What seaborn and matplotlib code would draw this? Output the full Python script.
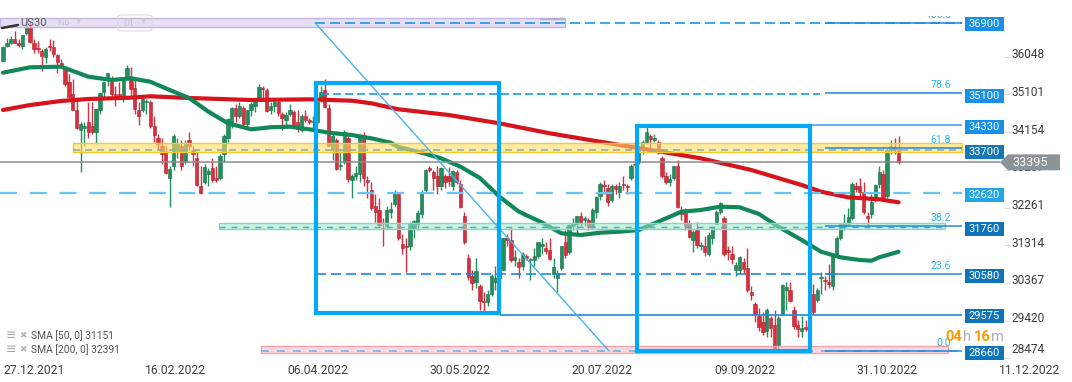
import numpy as np
import pandas as pd
import matplotlib
matplotlib.use("Agg")
import matplotlib.pyplot as plt
from matplotlib.patches import Rectangle, Polygon
import seaborn as sns

# US30 daily candles, 27.12.2021 .. 15.11.2022 (one value per weekday)
opens = (
    [35950, 36310, 36400, 36490, 36400]
    + [36321, 36636, 36800, 36400, 36250, 36200, 36050, 36300, 36300, 36080, 35900,
       35780, 35400, 35100, 34700, 34200, 34250, 34400, 34300, 34150, 34700]
    + [35150, 35450, 35500, 35100, 35100, 35050, 35500, 35500, 35250, 34700, 34700,
       34900, 34900, 34300, 34000, 33800, 33650, 33000, 33300, 33650]
    + [33800, 33400, 33950, 33700, 33500, 32800, 32900, 33100, 33250, 33000, 33000,
       33600, 34000, 34400, 34750, 34550, 34750, 34350, 34700, 34800, 35000, 35250, 35200]
    + [34700, 34800, 34900, 34600, 34450, 34600, 34650, 34400, 34200, 34550, 34450,
       34400, 34400, 34950, 35200, 34750, 33700, 33950, 33300, 33400, 34000]
    + [32950, 33050, 33100, 34000, 32950, 32700, 32300, 32200, 31750, 31800, 32150,
       32350, 32600, 31350, 31300, 31300, 31750, 31850, 32100, 32700, 33250, 33150]
    + [33050, 32800, 33050, 33050, 32800, 33150, 32850, 32050, 31000, 30550, 30400,
       30300, 29900, 29900, 30100, 30400, 30500, 30700, 31500, 31450, 30950, 30900]
    + [30800, 31050, 30950, 30950, 31050, 31300, 31250, 31200, 30600, 30500, 30750,
       31400, 31150, 31800, 31850, 32050, 31950, 31950, 31800, 32150, 32550]
    + [32800, 32750, 32450, 32800, 32650, 32850, 32800, 33000, 33350, 33400, 33700,
       33900, 34050, 33950, 33900, 33500, 33050, 32900, 33000, 33300, 32100, 32150, 31850]
    + [31450, 31700, 31300, 31300, 31100, 31500, 31850, 32150, 32000, 31200, 31100,
       30700, 30700, 30900, 30750, 30150, 29850, 29550, 29400, 29150, 29500, 29300]
    + [28800, 29600, 30200, 30200, 29700, 29300, 29150, 29250, 29150, 30100, 29950,
       30500, 30450, 30400, 30300, 31100, 31500, 31800, 31850, 32000, 32800]
    + [32800, 32650, 32050, 32100, 32450, 32850, 33100, 32550, 33750, 33780, 33720]
)
highs = (
    [36310, 36527, 36571, 36680, 36480]
    + [36600, 36934, 36952, 36500, 36430, 36250, 36300, 36500, 36460, 36120, 36000,
       35800, 35600, 35480, 34950, 34400, 34400, 34900, 34900, 34740, 35150]
    + [35420, 35650, 35550, 35300, 35400, 35500, 35830, 35800, 35500, 34900, 35000,
       34990, 34950, 34550, 34100, 34000, 33800, 33300, 34100, 34000]
    + [33950, 33950, 34150, 33800, 33650, 33300, 33350, 33250, 33500, 33300, 33600,
       34100, 34500, 34780, 34850, 34900, 34800, 34720, 34900, 34960, 35372, 35300, 35250]
    + [34900, 34950, 35000, 34650, 34650, 34850, 34700, 34700, 34600, 34700, 34500,
       34550, 34950, 35300, 35492, 34850, 34100, 34000, 33700, 34200, 34100]
    + [33100, 33300, 34100, 34150, 33050, 32900, 32600, 32500, 32000, 32300, 32400,
       32700, 32650, 31600, 31500, 31900, 31950, 32200, 32700, 33220, 33300, 33200]
    + [33300, 33270, 33100, 33270, 33200, 33200, 32950, 32150, 31100, 30700, 31000,
       30350, 30150, 30200, 30600, 30800, 30750, 31500, 31600, 31750, 31200, 31000]
    + [31150, 31100, 31000, 31250, 31400, 31500, 31400, 31500, 31000, 30700, 31300,
       31700, 31850, 32000, 32050, 32150, 32050, 32000, 32250, 32550, 32900]
    + [32950, 32850, 32850, 32850, 32900, 33050, 32850, 33350, 33600, 33770, 33950,
       34281, 34100, 34100, 33950, 33550, 33150, 33100, 33300, 33450, 32300, 32250, 31950]
    + [31700, 31900, 31400, 31550, 31650, 31800, 32200, 32400, 32050, 31300, 31300,
       30900, 31050, 31000, 31250, 30300, 29900, 29750, 29650, 29750, 29550, 29700]
    + [29550, 30350, 30400, 30400, 29800, 29450, 29550, 29450, 30100, 30350, 30250,
       30650, 30550, 30850, 31100, 31550, 31850, 32100, 32250, 32900, 32900]
    + [33000, 32900, 32150, 32600, 32850, 33300, 33200, 33750, 33950, 34000, 34050]
)
lows = (
    [35930, 36290, 36360, 36380, 36300]
    + [36250, 36600, 36400, 36150, 36150, 35700, 35900, 36200, 36040, 35650, 35800,
       35300, 35000, 34700, 34240, 33150, 33800, 34000, 34100, 33850, 34600]
    + [35000, 35300, 35050, 34800, 35000, 34900, 35450, 35000, 34600, 34330, 34650,
       34600, 34250, 33900, 33700, 33350, 33100, 32272, 33200, 33500]
    + [33200, 33350, 33700, 33300, 32800, 32600, 32850, 32800, 32900, 32900, 32950,
       33400, 33900, 34250, 34400, 34500, 34300, 34300, 34550, 34650, 34950, 35000, 34650]
    + [34600, 34650, 34550, 34200, 34250, 34550, 34300, 34150, 34150, 34400, 34350,
       34250, 34350, 34900, 34750, 33800, 33450, 33200, 33200, 33350, 32900]
    + [32500, 32950, 32900, 32800, 32500, 32200, 31900, 31800, 31300, 31750, 32000,
       32300, 31450, 31100, 30636, 31200, 31500, 31700, 32000, 32650, 33150, 32700]
    + [32600, 32700, 32750, 32800, 32700, 32850, 32250, 31350, 30450, 30200, 30250,
       29700, 29653, 29800, 30050, 30200, 30300, 30700, 31300, 30900, 30800, 30500]
    + [30700, 30950, 30450, 30800, 31000, 31100, 31100, 30950, 30500, 30150, 30700,
       31000, 31100, 31700, 31600, 31800, 31800, 31700, 31750, 32000, 32450]
    + [32600, 32300, 32400, 32600, 32500, 32700, 32600, 32950, 33250, 33350, 33600,
       33850, 33750, 33900, 33600, 33000, 32850, 32800, 32950, 32250, 31950, 31700, 31500]
    + [31150, 31250, 31200, 31050, 31050, 31350, 31850, 32100, 31050, 30950, 30850,
       30550, 30600, 30600, 30150, 29950, 29400, 29150, 29050, 29000, 29000, 28715]
    + [28700, 29600, 29700, 29900, 29200, 29000, 29000, 29150, 28660, 29600, 29900,
       30100, 30200, 30250, 30200, 31050, 31450, 31700, 31800, 31950, 32650]
    + [32550, 32100, 31750, 32000, 32400, 32750, 32450, 32500, 33600, 33600, 33350]
)
closes = (
    [36302, 36398, 36488, 36398, 36338]
    + [36585, 36799, 36408, 36236, 36231, 36068, 36252, 36290, 36114, 35912, 35850,
       35369, 35029, 34715, 34265, 34365, 34298, 34168, 34160, 34725, 35132]
    + [35405, 35629, 35111, 35090, 35091, 35463, 35768, 35242, 34738, 34566, 34989,
       34934, 34312, 34079, 33850, 33597, 33131, 33224, 34059, 33893]
    + [33294, 33891, 33795, 33615, 32818, 32633, 33286, 33174, 32945, 32945, 33545,
       34063, 34481, 34755, 34553, 34808, 34359, 34708, 34862, 34955, 35294, 35229, 34678]
    + [34819, 34922, 34641, 34497, 34584, 34721, 34308, 34220, 34564, 34451, 34420,
       34411, 34911, 35161, 34793, 33811, 34049, 33240, 33302, 34160, 32977]
    + [33061, 33128, 34061, 32998, 32899, 32246, 32161, 31834, 31730, 32197, 32223,
       32655, 31490, 31253, 31262, 31880, 31929, 32120, 32637, 33213, 33200, 32990]
    + [32813, 33248, 32900, 32916, 33180, 32910, 32273, 31393, 30517, 30365, 30669,
       29927, 29889, 30100, 30530, 30484, 30677, 31500, 31439, 30947, 31029, 30775]
    + [31097, 31000, 30968, 31037, 31385, 31338, 31173, 30981, 30772, 30630, 31288,
       31072, 31827, 31874, 32036, 31899, 31990, 31761, 32197, 32529, 32845]
    + [32798, 32396, 32813, 32726, 32803, 32832, 32774, 33309, 33336, 33761, 33912,
       34152, 33980, 33999, 33706, 33063, 32909, 32969, 33291, 32283, 32098, 31790, 31510]
    + [31656, 31318, 31300, 31145, 31581, 31774, 32151, 32381, 31104, 31135, 30961,
       30822, 31019, 30706, 30184, 30076, 29590, 29260, 29134, 29683, 29225, 28725]
    + [29490, 30316, 30273, 29926, 29296, 29202, 29239, 29210, 30038, 29634, 30185,
       30523, 30423, 30333, 31082, 31499, 31836, 31839, 32033, 32861, 32732]
    + [32653, 32147, 32001, 32403, 32827, 33160, 32513, 33715, 33800, 33700, 33395]
)

# moving averages (bar index, value)
sma50_idx = [0, 7, 15, 22, 28, 33, 38, 43, 48, 53, 58, 64, 69, 74, 79, 84, 90, 95, 100, 102,
             108, 113, 118, 123, 128, 133, 139, 144, 149, 154, 159, 164, 169, 175, 180, 185,
             190, 195, 200, 206, 211, 216, 221, 224, 226, 231]
sma50_val = [35645, 35781, 35796, 35545, 35462, 35504, 35419, 35211, 35010, 34666, 34376,
             34224, 34275, 34290, 34224, 34139, 34081, 33998, 33888, 33780, 33637, 33496,
             33286, 33002, 32538, 32161, 31885, 31614, 31571, 31629, 31654, 31697, 31905,
             32156, 32199, 32282, 32267, 32098, 31780, 31446, 31152, 31011, 30944, 30926,
             31011, 31151]
sma200_idx = [0, 7, 15, 22, 33, 38, 48, 64, 79, 90, 95, 102, 115, 128, 141, 154, 167, 180,
              193, 206, 211, 218, 226, 231]
sma200_val = [34709, 34834, 34935, 34985, 35018, 35053, 35010, 34960, 34977, 34942, 34877,
              34726, 34583, 34375, 34124, 33913, 33705, 33496, 33203, 32826, 32658, 32518,
              32467, 32391]

date_labels = ["27.12.2021", "16.02.2022", "06.04.2022", "30.05.2022",
               "20.07.2022", "09.09.2022", "31.10.2022", "11.12.2022"]
price_ticks = [36048, 35101, 34154, 33207, 32261, 31314, 30367, 29420, 28474]
levels = [36900, 35100, 34330, 33700, 32620, 31760, 30580, 29575, 28660]
level_colors = ["#1690e8", "#1690e8", "#1690e8", "#1577b6", "#22a6e8",
                "#0f73ba", "#0f73ba", "#0f73ba", "#0f73ba"]
fib_ratios = [0.0, 23.6, 38.2, 61.8, 78.6, 100.0]
last_price = 33395
sma50_last, sma200_last = 31151, 32391

df = pd.DataFrame({"o": opens, "h": highs, "l": lows, "c": closes})
df["i"] = np.arange(len(df))

W, H = 1072, 382
X0, XS = 3, 3.877          # pixel of first bar, pixels per bar
P0, PS = 36900, 25.1       # price at pixel row 22.7, points per pixel


def xi(px):
    return (px - X0) / XS


def py(row):
    return P0 - (row - 22.7) * PS


sns.set_style("white")
plt.rcParams["font.family"] = ["Roboto", "DejaVu Sans"]

fig = plt.figure(figsize=(W / 100, H / 100), dpi=100)
ax = fig.add_axes([0, (H - 360) / H, 1004 / W, 344 / H])
ax.set_xlim(xi(0), xi(1004))
ax.set_ylim(py(360), py(16))
for s in ax.spines.values():
    s.set_visible(False)

# candles
up = df["c"] >= df["o"]
body_col = np.where(up, "#22905e", "#d8303f")
edge_col = np.where(up, "#176b45", "#a9202e")
ax.vlines(df["i"], df["l"], df["h"], colors=body_col, lw=1, zorder=2)
ax.bar(df["i"], np.maximum((df["c"] - df["o"]).abs(), 25),
       bottom=np.minimum(df["o"], df["c"]), width=0.85,
       color=body_col, edgecolor=edge_col, linewidth=0.4, zorder=2)

# moving averages
sns.lineplot(x=sma200_idx, y=sma200_val, ax=ax, color="#d7141c", linewidth=3.0, zorder=3)
sns.lineplot(x=sma50_idx, y=sma50_val, ax=ax, color="#12875a", linewidth=3.0, zorder=3)


def band(x0, x1, p0, p1, face, edge, alpha):
    ax.add_patch(Rectangle((x0, p0), x1 - x0, p1 - p0, fc=face, ec="none",
                           alpha=alpha, zorder=4))
    ax.add_patch(Rectangle((x0, p0), x1 - x0, p1 - p0, fill=False, ec=edge,
                           lw=1, zorder=4))


R = xi(962)
band(xi(0), xi(565), 36800, 37010, "#d6cbee", "#c3b8e0", 0.6)
band(xi(73), R, 33662, 33873, "#ffdc6e", "#f4c92e", 0.6)
band(xi(219), xi(945), 31714, 31865, "#9fe6c9", "#8ad8bb", 0.55)
band(xi(261), xi(948), 28610, 28785, "#f8b2bb", "#f2a4ae", 0.5)
ax.hlines(py(18.5), xi(540), xi(565), colors="#b5aecb", lw=1.5, zorder=5)

# horizontal levels
ax.hlines(36900, xi(315), R, colors="#1a98ea", lw=1.2, linestyles=(0, (6, 3)), zorder=5)
ax.hlines(35100, xi(321), xi(820), colors="#1a98ea", lw=1.2, linestyles=(0, (4.8, 2.4)), zorder=5)
ax.hlines(34330, xi(640), R, colors="#4aa8f0", lw=1.2, zorder=5)
ax.hlines(33700, xi(73), R, colors="#8fb3a0", lw=1.2, linestyles=(0, (4.2, 3)), zorder=5)
ax.hlines(32620, xi(0), R, colors="#67c4f4", lw=1.6, linestyles=(0, (7.6, 5.8)), zorder=5)
ax.hlines(31760, xi(219), xi(945), colors="#3aa8e8", lw=1.0, linestyles=(0, (4.3, 4.3)), zorder=5)
ax.hlines(30580, xi(316), xi(837), colors="#1e88e5", lw=1.2, linestyles=(0, (6, 3)), zorder=5)
ax.hlines(29575, xi(500), R, colors="#1e88e5", lw=1.2, zorder=5)
ax.hlines(28660, xi(261), R, colors="#6db3e8", lw=1.2, linestyles=(0, (4.8, 4.8)), zorder=5)
ax.hlines(last_price, xi(0), xi(1000), colors="#8c8c8c", lw=1.1, zorder=5)

# fibonacci retracement between 36900 and 28660
fib_lo, fib_hi = 28660, 36900
ax.plot([xi(315), xi(609)], [fib_hi, fib_lo], color="#45b3f0", lw=1, zorder=5)
for r in fib_ratios:
    p = fib_lo + r / 100 * (fib_hi - fib_lo)
    ax.hlines(p, xi(825), R, colors="#1e88e5", lw=1.1, zorder=5)
    ax.text(xi(951), p + 5 * PS, f"{r:.1f}", ha="right", va="baseline",
            fontsize=7.6, color="#29b6f6", zorder=8, clip_on=True)

# rectangles
ax.add_patch(Rectangle((xi(316), 29621), xi(499) - xi(316), 35379 - 29621,
                       fill=False, ec="#03a9f4", lw=3, zorder=6))
ax.add_patch(Rectangle((xi(637), 28667), xi(810) - xi(637), 34315 - 28667,
                       fill=False, ec="#03a9f4", lw=3, zorder=6))

# level price boxes
for lv, colr in zip(levels, level_colors):
    ax.add_patch(Rectangle((xi(965), lv - 40 - 175), xi(1004) - xi(965), 350,
                           fc=colr, ec="none", zorder=7, clip_on=False))
    ax.text((xi(965) + xi(1004)) / 2, lv - 40, f"{lv}", color="white",
            fontsize=8, ha="center", va="center", zorder=8, clip_on=False)

# right price scale (lowest label kept inside the visible area)
ax.yaxis.tick_right()
ax.set_yticks(price_ticks)
ax.set_yticklabels([])
ax.tick_params(axis="y", length=4, width=0.8, color="#dddddd")
for t in price_ticks:
    ax.text(xi(1011), max(t, py(352)) + 2 * PS, str(t), fontsize=8.6, color="#3c3c3c",
            ha="left", va="center", zorder=6, clip_on=False)

# current price marker
ax.add_patch(Polygon([(xi(1000), last_price), (xi(1008), last_price + 200),
                      (xi(1060), last_price + 200), (xi(1060), last_price - 200),
                      (xi(1008), last_price - 200)],
                     closed=True, fc="#8b9498", ec="none", zorder=10, clip_on=False))
ax.text(xi(1012), last_price, f"{last_price}", color="white", fontsize=9,
        ha="left", va="center", zorder=11, clip_on=False)

tick_step = 36.68
ax.set_xticks([k * tick_step for k in range(len(date_labels))])
ax.set_xticklabels(date_labels, ha="left")
ax.tick_params(axis="x", length=0, labelsize=8.7, labelcolor="#404040", pad=3)
ax.grid(False)

# header and legend texts


def fx(px):
    return px / W


def fy(row):
    return 1 - row / H


fig.add_artist(plt.Line2D([fx(2), fx(18)], [fy(28), fy(25)], color="#333333", lw=1.8))
fig.text(fx(20), fy(23), "US30", fontsize=8, color="#555555", va="center", zorder=1)
fig.text(fx(57), fy(23), "IND", fontsize=5.5, color="#c4c4c4", va="center")
fig.text(fx(76), fy(22), "\u25bc", fontsize=5, color="#cccccc", va="center")
fig.patches.append(matplotlib.patches.FancyBboxPatch(
    (fx(118), fy(31)), fx(34), 16 / H, boxstyle="round,pad=0,rounding_size=0.005",
    transform=fig.transFigure, fc="none", ec="#dddddd", lw=0.8))
fig.text(fx(123), fy(23), "D1", fontsize=6.5, color="#c4c4c4", va="center")
fig.text(fx(141), fy(22), "\u25bc", fontsize=5, color="#cccccc", va="center")

for row, txt in [(335.7, f"SMA [50, 0] {sma50_last}"), (349.3, f"SMA [200, 0] {sma200_last}")]:
    fig.text(fx(6), fy(row), "\u2261", fontsize=9, color="#a8a8a8", va="center")
    fig.text(fx(19), fy(row), "\u2716", fontsize=6.5, color="#b8b8b8", va="center")
    fig.text(fx(31), fy(row), txt, fontsize=7.4, color="#555555", va="center")

for x, t, c, w in [(945, "04", "#ff9800", "bold"), (963, "h", "#b0b0b0", "normal"),
                   (974, "16", "#ff9800", "bold"), (991, "m", "#b0b0b0", "normal")]:
    fig.text(fx(x), fy(337), t, fontsize=10.5, color=c, fontweight=w, va="center")

fig.savefig("out.png", dpi=100)
